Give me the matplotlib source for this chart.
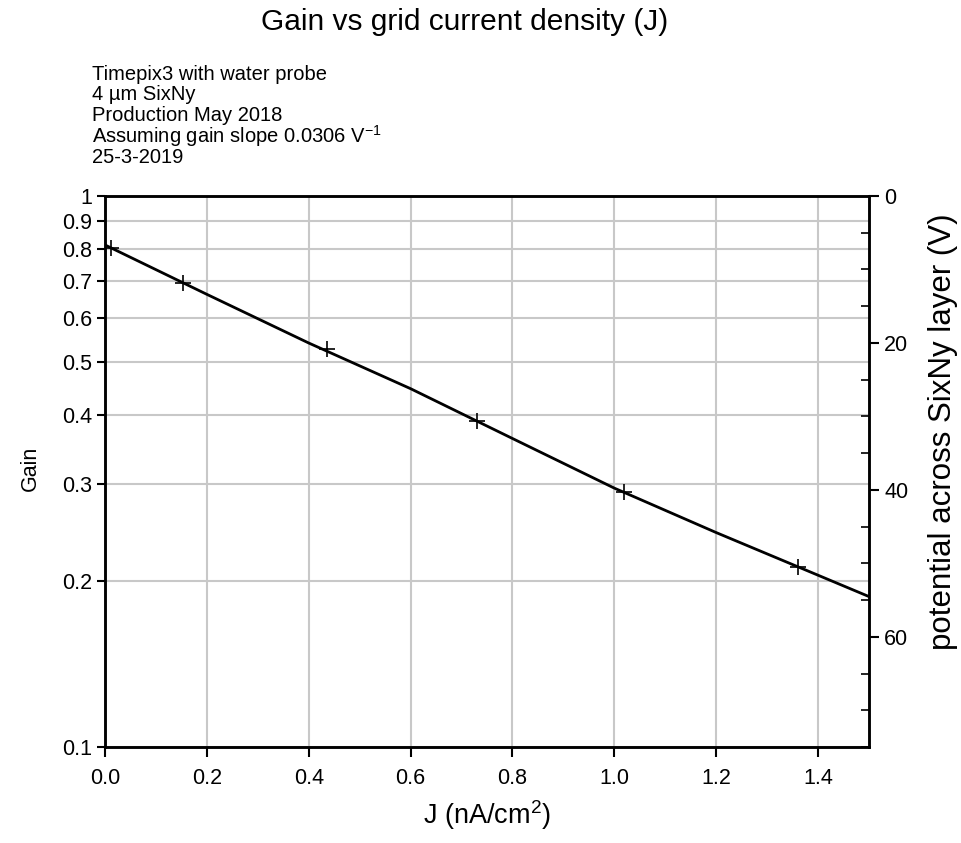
import matplotlib
matplotlib.use("Agg")
import matplotlib.pyplot as plt
from matplotlib.ticker import FixedLocator, MultipleLocator, NullFormatter, NullLocator

plt.rcParams['font.family'] = ['Liberation Sans', 'DejaVu Sans']
plt.rcParams['mathtext.fontset'] = 'custom'
plt.rcParams['mathtext.rm'] = 'Liberation Sans'
plt.rcParams['mathtext.it'] = 'Liberation Sans:italic'

# Data
J_points = [0.011, 0.153, 0.435, 0.730, 1.019, 1.360]
gain_points = [0.806, 0.696, 0.527, 0.391, 0.290, 0.212]
fit_J = [0.0, 0.2, 0.4, 0.6, 0.8, 1.0, 1.2, 1.4, 1.5]
fit_gain = [0.815, 0.663, 0.541, 0.447, 0.363, 0.295, 0.245, 0.205, 0.1875]

y_ticks = [0.1, 0.2, 0.3, 0.4, 0.5, 0.6, 0.7, 0.8, 0.9, 1.0]
y_labels = ['0.1', '0.2', '0.3', '0.4', '0.5', '0.6', '0.7', '0.8', '0.9', '1']
x_ticks = [0.0, 0.2, 0.4, 0.6, 0.8, 1.0, 1.2, 1.4]
x_labels = ['0.0', '0.2', '0.4', '0.6', '0.8', '1.0', '1.2', '1.4']
right_ticks = [0, 20, 40, 60]
right_max = 75.0

notes = ['Timepix3 with water probe',
         '4 \u00b5m SixNy',
         'Production May 2018',
         'Assuming gain slope 0.0306 V$^{-1}$',
         '25-3-2019']

fig = plt.figure(figsize=(9.62, 8.43), dpi=100)
W, H = 962, 843
left, right, top, bottom = 105, 869, 196, 747
ax = fig.add_axes([left / W, 1 - bottom / H, (right - left) / W, (bottom - top) / H])

ax.set_yscale('log')
ax.set_ylim(0.1, 1.0)
ax.set_xlim(0, 1.5)
ax.yaxis.set_major_locator(FixedLocator(y_ticks))
ax.set_yticklabels(y_labels)
ax.yaxis.set_minor_locator(NullLocator())
ax.yaxis.set_minor_formatter(NullFormatter())
ax.set_xticks(x_ticks)
ax.set_xticklabels(x_labels)

ax.grid(True, color='#c8c8c8', linewidth=1.5)
ax.set_axisbelow(True)

ax.plot(fit_J, fit_gain, color='black', linewidth=2, zorder=3)
ax.plot(J_points, gain_points, linestyle='none', marker='+', markersize=12,
        markeredgewidth=1.2, color='black', zorder=4)

for s in ax.spines.values():
    s.set_linewidth(1.8)
ax.tick_params(axis='y', direction='out', length=6, width=1.5, labelsize=15.5, pad=3)
ax.tick_params(axis='x', direction='out', length=7, width=1.5, labelsize=15.5, pad=8)

ax2 = ax.twinx()
ax2.set_ylim(right_max, 0)
ax2.set_yticks(right_ticks)
ax2.yaxis.set_minor_locator(MultipleLocator(5))
ax2.tick_params(axis='y', which='major', direction='out', length=7, width=1.5, labelsize=15.5, pad=4)
ax2.tick_params(axis='y', which='minor', direction='in', length=6, width=1.2)
for s in ax2.spines.values():
    s.set_linewidth(1.8)

fig.text(487 / W, 1 - 815 / H, 'J (nA/cm$^2$)', fontsize=19.5, ha='center', va='center')
fig.text(30 / W, 1 - 468 / H, 'Gain', fontsize=15.5, rotation=90, ha='center', va='center')
fig.text(943 / W, 1 - 432 / H, 'potential across SixNy layer (V)', fontsize=22.5,
         rotation=90, ha='center', va='center')

fig.text(465 / W, 1 - 22 / H, 'Gain vs grid current density (J)', fontsize=21.5,
         ha='center', va='center')
for i, t in enumerate(notes):
    fig.text(92 / W, 1 - (74 + i * 20.8) / H, t, fontsize=14.5, ha='left', va='center')

fig.savefig('out.png', dpi=100)
